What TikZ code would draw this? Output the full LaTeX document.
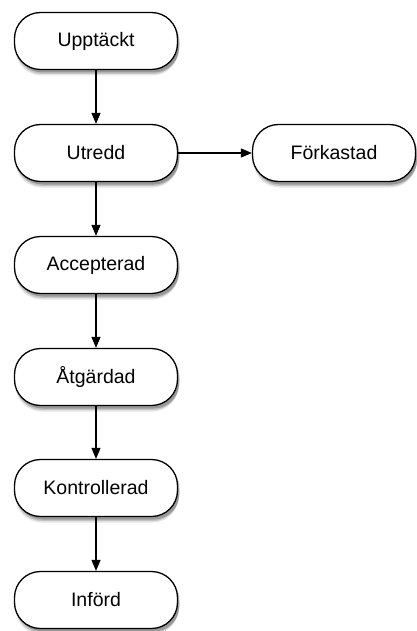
\documentclass[tikz,border=0pt]{standalone}
\usepackage{fontspec}
\setmainfont{Liberation Sans}
\usetikzlibrary{shadows,arrows.meta}
\begin{document}
\begin{tikzpicture}[x=1pt,y=-1pt,
  state/.style={draw=black, line width=1.3pt, fill=white, rounded corners=26pt,
    minimum width=163pt, minimum height=57pt, font=\fontsize{19.5}{23}\selectfont,
    general shadow={shadow xshift=1pt, shadow yshift=-6pt, fill=black, opacity=0.10},
    general shadow={shadow xshift=1.5pt, shadow yshift=-4.5pt, fill=black, opacity=0.15},
    general shadow={shadow xshift=2pt, shadow yshift=-3pt, fill=black, opacity=0.22}},
  flow/.style={-{Triangle[length=11pt,width=9pt]}, line width=1.2pt}]
\useasboundingbox (0,0) rectangle (416,631);
\node[state] (a) at (96,41) {Upptäckt};
\node[state] (b) at (96,153) {Utredd};
\node[state] (f) at (334,153) {Förkastad};
\node[state] (c) at (96,265) {Accepterad};
\node[state] (d) at (96,377) {Åtgärdad};
\node[state] (e) at (96,488) {Kontrollerad};
\node[state] (g) at (96,600) {Införd};
\draw[flow] (a) -- (b);
\draw[flow] (b) -- (f);
\draw[flow] (b) -- (c);
\draw[flow] (c) -- (d);
\draw[flow] (d) -- (e);
\draw[flow] (e) -- (g);
\end{tikzpicture}
\end{document}
